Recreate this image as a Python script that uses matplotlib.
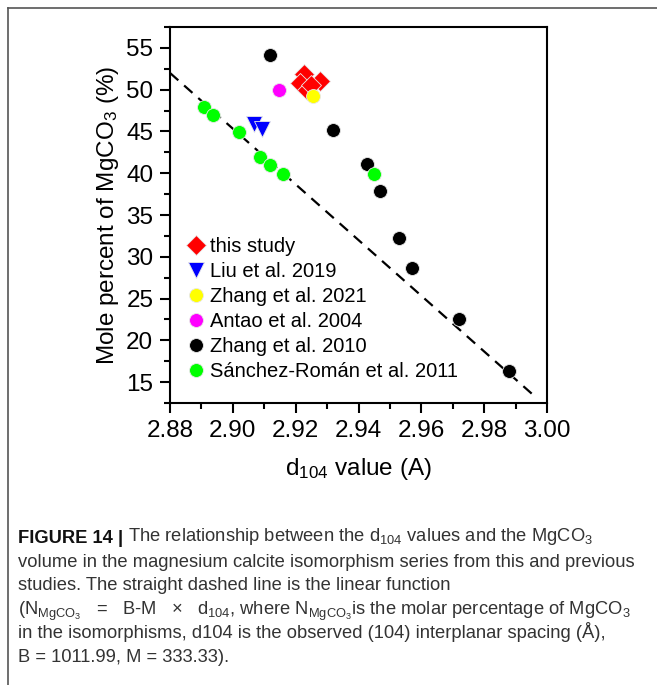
import matplotlib
matplotlib.use("Agg")
import numpy as np
import matplotlib.pyplot as plt
from matplotlib.lines import Line2D

plt.rcParams["font.family"] = ["Liberation Sans", "DejaVu Sans"]
plt.rcParams["mathtext.fontset"] = "custom"
plt.rcParams["mathtext.rm"] = "Liberation Sans"
plt.rcParams["mathtext.it"] = "Liberation Sans:italic"

# d104 (A) and MgCO3 mole percent
this_d = [2.9227, 2.9214, 2.9235, 2.9277, 2.9250]
this_n = [51.85, 50.75, 49.95, 51.05, 50.60]

liu_d = [2.9068, 2.9094]
liu_n = [45.85, 45.25]

zhang21_d = [2.9256]
zhang21_n = [49.2]

antao_d = [2.9148]
antao_n = [49.95]

zhang10_d = [2.9118, 2.9320, 2.9428, 2.9469, 2.9530, 2.9570, 2.9720, 2.9880]
zhang10_n = [54.1, 45.2, 41.05, 37.9, 32.2, 28.7, 22.5, 16.3]

sanchez_d = [2.8909, 2.8938, 2.9019, 2.9086, 2.9118, 2.9160, 2.9450]
sanchez_n = [47.95, 46.95, 44.9, 41.95, 40.95, 39.95, 39.95]

# linear fit N = B - M * d104
B = 1011.99
M = 333.33
fit_d = np.array([2.88, 2.9955])

labels = ["this study", "Liu et al. 2019", "Zhang et al. 2021",
          "Antao et al. 2004", "Zhang et al. 2010", "Sánchez-Román et al. 2011"]


def main():
  fig = plt.figure(figsize=(6.57, 6.85), dpi=100)
  ax = fig.add_axes([170/657, 1 - 403/685, 377/657, 376/685])

  ax.plot(fit_d, B - M*fit_d, ls=(0, (5, 3.5)), color="black", lw=1.6, zorder=1)

  ec = "#e8e8e8"
  ax.plot(this_d, this_n, "D", ms=10, color="#ff0000", mec=ec, mew=0.6, ls="none", label=labels[0])
  ax.plot(liu_d, liu_n, "v", ms=11, color="#0000ff", mec=ec, mew=0.6, ls="none", label=labels[1])
  ax.plot(zhang21_d, zhang21_n, "o", ms=10, color="#ffff00", mec=ec, mew=0.6, ls="none", label=labels[2])
  ax.plot(antao_d, antao_n, "o", ms=10, color="#ff00ff", mec=ec, mew=0.6, ls="none", label=labels[3])
  ax.plot(zhang10_d, zhang10_n, "o", ms=10, color="black", mec=ec, mew=0.6, ls="none", label=labels[4])
  ax.plot(sanchez_d, sanchez_n, "o", ms=10, color="#00ff00", mec=ec, mew=0.6, ls="none", label=labels[5])

  ax.set_xlim(2.88, 3.00)
  ax.set_ylim(12.5, 57.5)
  ax.set_xticks(np.arange(2.88, 3.001, 0.02))
  ax.set_xticks(np.arange(2.89, 3.0, 0.02), minor=True)
  ax.set_yticks(np.arange(15, 56, 5))
  ax.set_yticks(np.arange(12.5, 57.6, 5), minor=True)
  ax.xaxis.set_major_formatter(plt.FormatStrFormatter("%.2f"))

  ax.tick_params(which="both", direction="out", width=1.5, labelsize=17.5,
                 top=False, right=False)
  ax.tick_params(which="major", length=7, pad=5)
  ax.tick_params(which="minor", length=4)
  for sp in ax.spines.values():
    sp.set_linewidth(1.5)

  ax.set_xlabel(r"d$_{104}$ value (A)", fontsize=17.5, labelpad=10)
  ax.set_ylabel(r"Mole percent of MgCO$_3$ (%)", fontsize=17.5, labelpad=4)

  ax.legend(loc="lower left", frameon=False, fontsize=14.5, handletextpad=0.1,
            handlelength=1.2, labelspacing=0.3, borderaxespad=0.3,
            bbox_to_anchor=(0.0, 0.02))

  # frame lines around the figure panel
  fig.add_artist(Line2D([8/657, 1.0], [1 - 8/685, 1 - 8/685], color="#555555", lw=1.2))
  fig.add_artist(Line2D([8/657, 8/657], [0.0, 1 - 8/685], color="#555555", lw=1.2))

  # caption
  cap_font = ["Liberation Sans Narrow", "Liberation Sans", "DejaVu Sans"]
  cs = 13.2
  x0 = 18/657
  ys = [543, 567, 590, 615, 638, 662]
  t1 = fig.text(x0, 1 - ys[0]/685, "FIGURE 14 |", fontsize=cs, fontweight="bold",
                family=cap_font, va="baseline", color="#111111")
  fig.canvas.draw()
  ax.annotate(r" The relationship between the d$_{104}$ values and the MgCO$_3$",
              xy=(1, 0), xycoords=t1, va="bottom", ha="left",
              fontsize=cs, family=cap_font, color="#333333", annotation_clip=False)
  rest = [
    "volume in the magnesium calcite isomorphism series from this and previous",
    "studies. The straight dashed line is the linear function",
    r"(N$_{\mathrm{MgCO_3}}$   =   B-M   ×   d$_{104}$, where N$_{\mathrm{MgCO_3}}$is the molar percentage of MgCO$_3$",
    "in the isomorphisms, d104 is the observed (104) interplanar spacing (Å),",
    "B = 1011.99, M = 333.33).",
  ]
  for y, line in zip(ys[1:], rest):
    fig.text(x0, 1 - y/685, line, fontsize=cs, family=cap_font, va="baseline",
             color="#333333")

  fig.savefig("out.png", dpi=100)


if __name__ == "__main__":
  main()
